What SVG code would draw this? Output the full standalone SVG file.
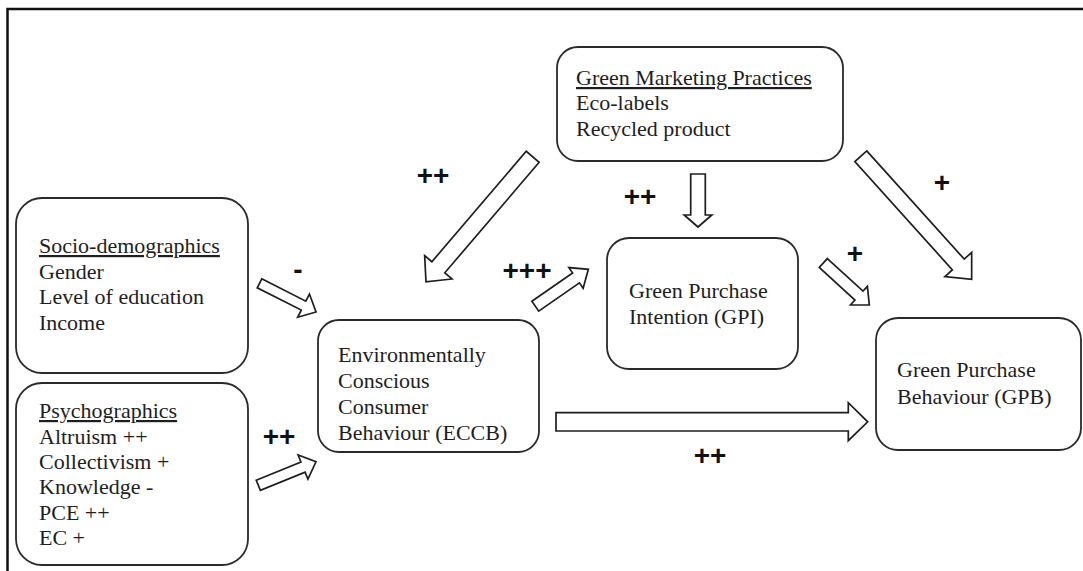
<svg xmlns="http://www.w3.org/2000/svg" width="1083" height="571" viewBox="0 0 1083 571">
  <style>
    .box { fill: #ffffff; stroke: #2a2a2a; stroke-width: 1.8; }
    .txt { font-family: "Liberation Serif", Tinos, "Times New Roman", "DejaVu Serif", serif; font-size: 22px; fill: #1e1e1e; }
    .hd { text-decoration: underline; }
    .blk { fill: #ffffff; stroke: #1e1e1e; stroke-width: 1.7; stroke-linejoin: miter; }
    .sign { font-family: "Liberation Sans", Arial, sans-serif; font-weight: bold; font-size: 28px; fill: #111; text-anchor: middle; }
  </style>

  <rect width="1083" height="571" fill="#ffffff"/>
  <!-- open frame: top and left edges only -->
  <path d="M7.5,571 V9 H1083" fill="none" stroke="#111" stroke-width="2.5"/>

  <g id="socio-demographics" font-family="'Liberation Serif', serif">
    <rect class="box" x="16" y="198" width="232" height="175" rx="26"/>
    <text class="txt" x="39" y="253"><tspan class="hd">Socio-demographics</tspan></text>
    <text class="txt" x="39" y="279">Gender</text>
    <text class="txt" x="39" y="304">Level of education</text>
    <text class="txt" x="39" y="330">Income</text>
  </g>

  <g id="psychographics" font-family="'Liberation Serif', serif">
    <rect class="box" x="16" y="383" width="232" height="182" rx="26"/>
    <text class="txt" x="39" y="418"><tspan class="hd">Psychographics</tspan></text>
    <text class="txt" x="39" y="444">Altruism ++</text>
    <text class="txt" x="39" y="469">Collectivism +</text>
    <text class="txt" x="39" y="494">Knowledge -</text>
    <text class="txt" x="39" y="520">PCE ++</text>
    <text class="txt" x="39" y="545">EC +</text>
  </g>

  <g id="eccb" font-family="'Liberation Serif', serif">
    <rect class="box" x="318" y="320" width="221" height="132" rx="21"/>
    <text class="txt" x="338" y="362">Environmentally</text>
    <text class="txt" x="338" y="388">Conscious</text>
    <text class="txt" x="338" y="414">Consumer</text>
    <text class="txt" x="338" y="440">Behaviour (ECCB)</text>
  </g>

  <g id="green-marketing" font-family="'Liberation Serif', serif">
    <rect class="box" x="557" y="47" width="286" height="114" rx="21"/>
    <text class="txt" x="576" y="85"><tspan class="hd">Green Marketing Practices</tspan></text>
    <text class="txt" x="576" y="110">Eco-labels</text>
    <text class="txt" x="576" y="136">Recycled product</text>
  </g>

  <g id="gpi" font-family="'Liberation Serif', serif">
    <rect class="box" x="607" y="238" width="191" height="131" rx="22"/>
    <text class="txt" x="629" y="298">Green Purchase</text>
    <text class="txt" x="629" y="324">Intention (GPI)</text>
  </g>

  <g id="gpb" font-family="'Liberation Serif', serif">
    <rect class="box" x="876" y="318" width="205" height="132" rx="22"/>
    <text class="txt" x="897" y="377">Green Purchase</text>
    <text class="txt" x="897" y="404">Behaviour (GPB)</text>
  </g>

  <!-- block arrows: drawn along +x from the tail, then placed and turned -->
  <g id="connectors">
    <polygon class="blk" transform="translate(259.5,283.3) rotate(26.9)" points="0,-5 49.4,-5 49.4,-13 63.4,0 49.4,13 49.4,5 0,5"/>
    <polygon class="blk" transform="translate(258.3,485.3) rotate(-22.2)" points="0,-5.5 48.3,-5.5 48.3,-13 62.3,0 48.3,13 48.3,5.5 0,5.5"/>
    <polygon class="blk" transform="translate(532.7,156.8) rotate(130.5)" points="0,-8.5 145.3,-8.5 145.3,-18 164.3,0 145.3,18 145.3,8.5 0,8.5"/>
    <polygon class="blk" transform="translate(698,174) rotate(90)" points="0,-7.3 41,-7.3 41,-13.8 53,0 41,13.8 41,7.3 0,7.3"/>
    <polygon class="blk" transform="translate(535.3,306.2) rotate(-34.8)" points="0,-6 49.6,-6 49.6,-12.5 64.6,0 49.6,12.5 49.6,6 0,6"/>
    <polygon class="blk" transform="translate(823.3,263) rotate(42.4)" points="0,-6 48.3,-6 48.3,-12.5 62.3,0 48.3,12.5 48.3,6 0,6"/>
    <polygon class="blk" transform="translate(860.8,156.2) rotate(48)" points="0,-8 145.7,-8 145.7,-18 165.7,0 145.7,18 145.7,8 0,8"/>
    <polygon class="blk" points="556,412.7 848.3,412.7 848.3,402.7 867.7,421.8 848.3,440.7 848.3,431 556,431"/>
  </g>

  <g id="effect-signs">
    <text class="sign" x="298" y="279">-</text>
    <text class="sign" x="279" y="446">++</text>
    <text class="sign" x="433" y="185">++</text>
    <text class="sign" x="527" y="280">+++</text>
    <text class="sign" x="640" y="206">++</text>
    <text class="sign" x="942" y="192">+</text>
    <text class="sign" x="855" y="263">+</text>
    <text class="sign" x="710" y="465">++</text>
  </g>
</svg>
